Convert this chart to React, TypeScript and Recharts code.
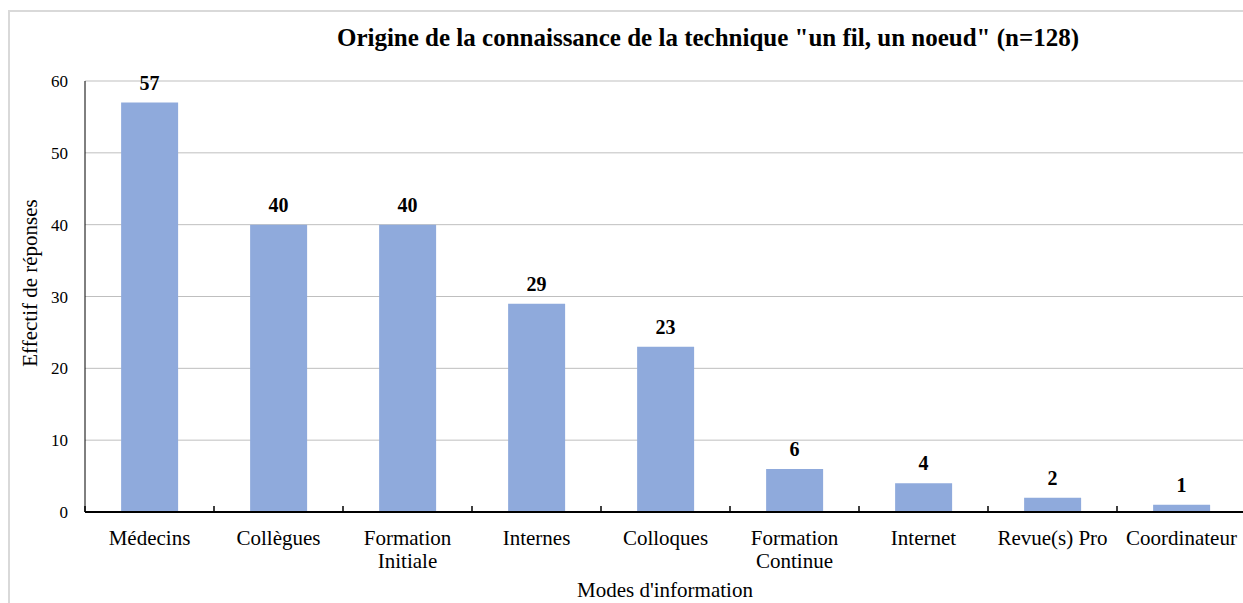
import { BarChart, Bar, XAxis, YAxis, CartesianGrid, LabelList } from "recharts";

const categories = [
  "Médecins",
  "Collègues",
  "Formation\nInitiale",
  "Internes",
  "Colloques",
  "Formation\nContinue",
  "Internet",
  "Revue(s) Pro",
  "Coordinateur",
];
const counts = [57, 40, 40, 29, 23, 6, 4, 2, 1];
const yTicks = [0, 10, 20, 30, 40, 50, 60];

const SERIF = '"Liberation Serif", "Times New Roman", serif';
const CHART_W = 1250;
const CHART_H = 603;
const MARGIN = { top: 81, right: 4, left: 0, bottom: 0 };
const Y_W = 85;
const HALF_BAND = (CHART_W - MARGIN.left - MARGIN.right - Y_W) / categories.length / 2;

const data = categories.map((name, i) => ({ name, value: counts[i] }));

function CategoryTick(props: any) {
  const { x, y, payload, index } = props;
  const lines = String(payload.value).split("\n");
  return (
    <g>
      <line x1={x - HALF_BAND} y1={y} x2={x - HALF_BAND} y2={y - 6} stroke="#000" strokeWidth={1.5} />
      {index === categories.length - 1 && (
        <line x1={x + HALF_BAND} y1={y} x2={x + HALF_BAND} y2={y - 6} stroke="#000" strokeWidth={1.5} />
      )}
      <text x={x} y={y + 26} textAnchor="middle" fontFamily={SERIF} fontSize={21} fill="#000">
        {lines.map((l, i) => (
          <tspan key={i} x={x} dy={i === 0 ? 7 : 23}>
            {l}
          </tspan>
        ))}
      </text>
    </g>
  );
}

export default function App() {
  return (
    <div style={{ position: "absolute", left: 0, top: 0, width: 1243, height: 603, overflow: "hidden", background: "#fff" }}>
      <div
        style={{
          position: "absolute",
          left: 8,
          top: 10,
          width: 1260,
          height: 620,
          border: "2px solid #d9d9d9",
          boxSizing: "border-box",
        }}
      />
      <div
        style={{
          position: "absolute",
          left: 208,
          top: 23,
          width: 1000,
          textAlign: "center",
          fontFamily: SERIF,
          fontWeight: "bold",
          fontSize: 25,
          lineHeight: "30px",
        }}
      >
        Origine de la connaissance de la technique "un fil, un noeud" (n=128)
      </div>
      <div style={{ position: "absolute", left: 0, top: 0 }}>
        <BarChart width={CHART_W} height={CHART_H} data={data} margin={MARGIN} barCategoryGap="28%">
          <CartesianGrid vertical={false} stroke="#bfbfbf" strokeWidth={1} />
          <XAxis
            dataKey="name"
            height={91}
            interval={0}
            tickSize={0}
            tickMargin={0}
            tickLine={false}
            axisLine={{ stroke: "#000", strokeWidth: 2 }}
            tick={<CategoryTick />}
          />
          <YAxis
            width={Y_W}
            domain={[0, 60]}
            ticks={yTicks}
            tickSize={0}
            tickMargin={17}
            tickLine={false}
            axisLine={{ stroke: "#000", strokeWidth: 1 }}
            tick={{ fill: "#000", fontFamily: SERIF, fontSize: 17 }}
          />
          <Bar dataKey="value" fill="#8faadc" isAnimationActive={false}>
            <LabelList
              dataKey="value"
              position="top"
              offset={13}
              style={{ fill: "#000", fontFamily: SERIF, fontSize: 20, fontWeight: "bold" }}
            />
          </Bar>
        </BarChart>
      </div>
      <div
        style={{
          position: "absolute",
          left: 30 - 150,
          top: 283 - 12,
          width: 300,
          height: 24,
          lineHeight: "24px",
          textAlign: "center",
          transform: "rotate(-90deg)",
          fontFamily: SERIF,
          fontSize: 21,
        }}
      >
        Effectif de réponses
      </div>
      <div
        style={{
          position: "absolute",
          left: 665 - 200,
          top: 578,
          width: 400,
          lineHeight: "24px",
          textAlign: "center",
          fontFamily: SERIF,
          fontSize: 21,
        }}
      >
        Modes d'information
      </div>
    </div>
  );
}
